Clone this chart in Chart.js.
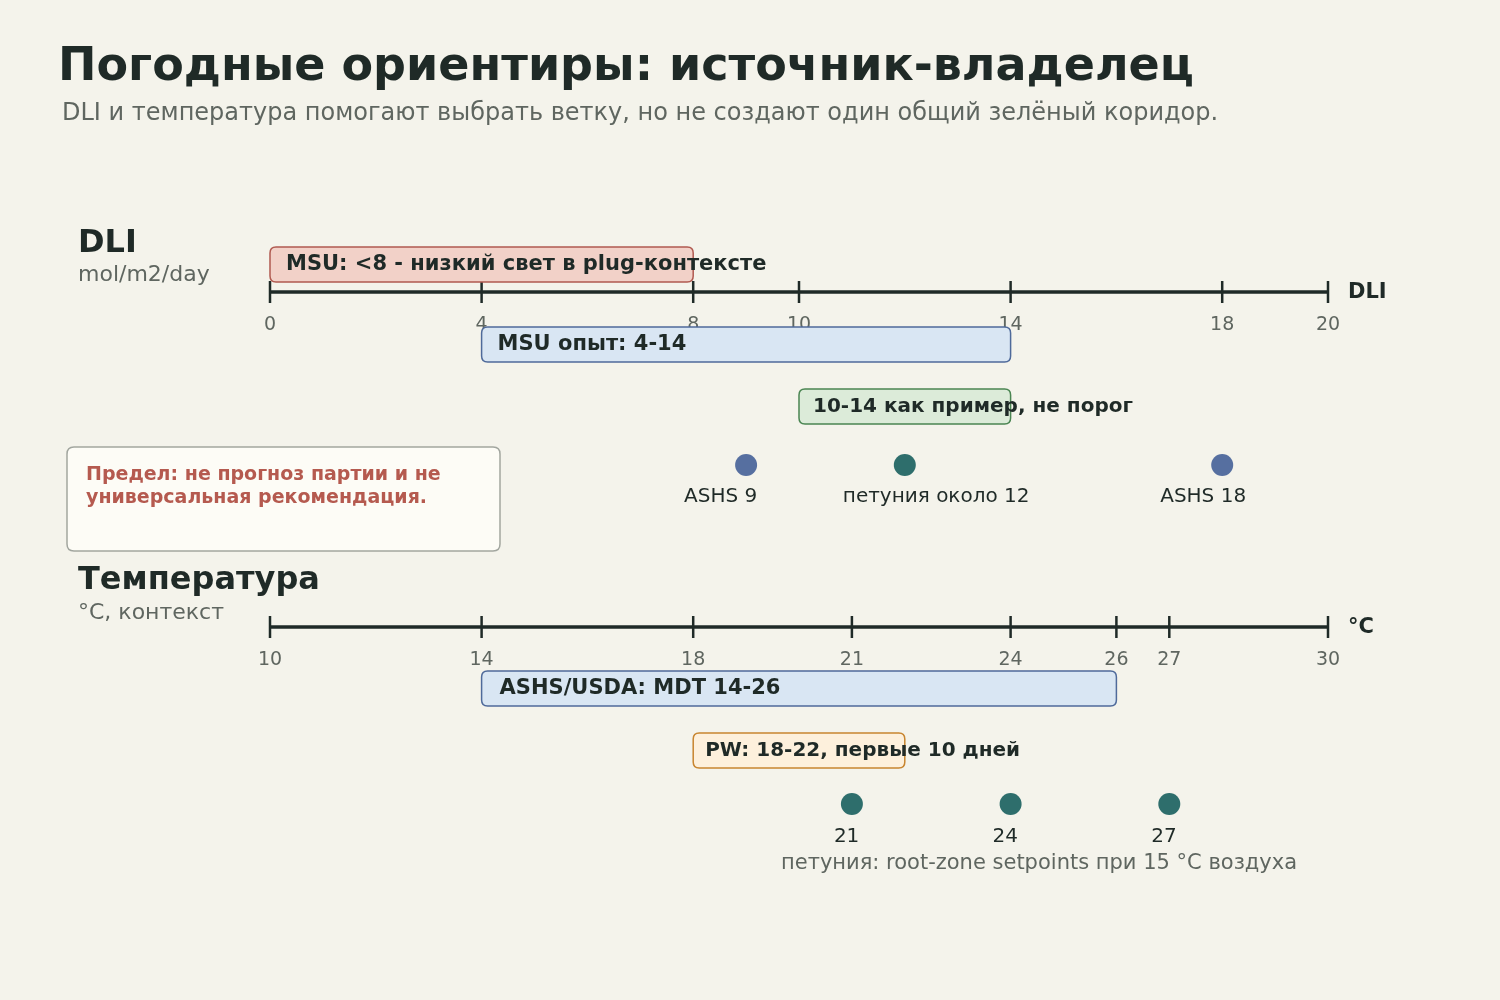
<!DOCTYPE html>
<html>
<head>
<meta charset="utf-8">
<script src="https://cdn.jsdelivr.net/npm/chart.js@4"></script>
<style>
  html, body { margin: 0; padding: 0; background: #f4f3eb; }
  canvas { display: block; }
</style>
</head>
<body>
<canvas id="myChart" width="1500" height="1000"></canvas>
<script>
// data
var dliTicks = [0, 4, 8, 10, 14, 18, 20];
var tempTicks = [10, 14, 18, 21, 24, 26, 27, 30];

var dliBandLabels = ['MSU: <8 - низкий свет в plug-контексте', 'MSU опыт: 4-14', '10-14 как пример, не порог'];
var dliBandStart = [0, 4, 10];
var dliBandEnd = [8, 14, 14];

var tempBandLabels = ['ASHS/USDA: MDT 14-26', 'PW: 18-22, первые 10 дней'];
var tempBandStart = [14, 18];
var tempBandEnd = [26, 22];

var dliMarks = [9, 12, 18];
var dliMarkLabels = ['ASHS 9', 'петуния около 12', 'ASHS 18'];
var tempMarks = [21, 24, 27];
var tempMarkLabels = ['21', '24', '27'];

// layout rows (pixel rows on the y scale)
var ROW = { dliAxis: 292, dliBands: [264, 344, 406], dliMarks: 465, tempAxis: 627, tempBands: [688, 750], tempMarks: 804 };

var FONT = '"DejaVu Sans", sans-serif';
var DARK = '#1f2a27';
var GREY = '#5f6660';
var BLUE = '#566fa0';
var TEAL = '#2e6e6c';

var dliBandStyle = [
  { fill: '#f2d1c8', stroke: '#b05a50', size: 21, pad: 16 },
  { fill: '#d9e6f3', stroke: '#4f6a9a', size: 21, pad: 16 },
  { fill: '#dcebd9', stroke: '#4a8552', size: 20, pad: 14 }
];
var tempBandStyle = [
  { fill: '#d9e6f3', stroke: '#4f6a9a', size: 21, pad: 18 },
  { fill: '#fdf0dc', stroke: '#c8852f', size: 20, pad: 12 }
];

function roundRect(ctx, x, y, w, h, r) {
  ctx.beginPath();
  ctx.moveTo(x + r, y);
  ctx.lineTo(x + w - r, y);
  ctx.quadraticCurveTo(x + w, y, x + w, y + r);
  ctx.lineTo(x + w, y + h - r);
  ctx.quadraticCurveTo(x + w, y + h, x + w - r, y + h);
  ctx.lineTo(x + r, y + h);
  ctx.quadraticCurveTo(x, y + h, x, y + h - r);
  ctx.lineTo(x, y + r);
  ctx.quadraticCurveTo(x, y, x + r, y);
  ctx.closePath();
}

function drawAxis(ctx, scale, ticks, y, endLabel) {
  var x0 = scale.getPixelForValue(scale.min);
  var x1 = scale.getPixelForValue(scale.max);
  ctx.save();
  ctx.strokeStyle = DARK;
  ctx.lineWidth = 3.5;
  ctx.beginPath();
  ctx.moveTo(x0, y);
  ctx.lineTo(x1, y);
  ctx.stroke();
  ctx.lineWidth = 2.5;
  ctx.font = '19px ' + FONT;
  ctx.fillStyle = GREY;
  ctx.textAlign = 'center';
  ctx.textBaseline = 'middle';
  ticks.forEach(function (t) {
    var x = scale.getPixelForValue(t);
    ctx.beginPath();
    ctx.moveTo(x, y - 11);
    ctx.lineTo(x, y + 11);
    ctx.stroke();
    ctx.fillText(String(t), x, y + 33);
  });
  ctx.font = 'bold 21px ' + FONT;
  ctx.fillStyle = DARK;
  ctx.textAlign = 'left';
  ctx.fillText(endLabel, x1 + 20, y + 1);
  ctx.restore();
}

function drawBands(ctx, scale, starts, ends, rows, styles) {
  ctx.save();
  for (var i = 0; i < starts.length; i++) {
    var a = scale.getPixelForValue(starts[i]);
    var b = scale.getPixelForValue(ends[i]);
    roundRect(ctx, a, rows[i] - 17, b - a, 35, 6);
    ctx.fillStyle = styles[i].fill;
    ctx.fill();
    ctx.lineWidth = 1.5;
    ctx.strokeStyle = styles[i].stroke;
    ctx.stroke();
  }
  ctx.restore();
}

function drawBandText(ctx, scale, starts, labels, rows, styles) {
  ctx.save();
  ctx.fillStyle = DARK;
  ctx.textAlign = 'left';
  ctx.textBaseline = 'middle';
  for (var i = 0; i < starts.length; i++) {
    ctx.font = 'bold ' + styles[i].size + 'px ' + FONT;
    ctx.fillText(labels[i], scale.getPixelForValue(starts[i]) + styles[i].pad, rows[i] + 1);
  }
  ctx.restore();
}

var diagram = {
  id: 'diagram',
  beforeDatasetsDraw: function (chart) {
    var ctx = chart.ctx;
    var x = chart.scales.x, x2 = chart.scales.x2;

    // headings
    ctx.save();
    ctx.textBaseline = 'middle';
    ctx.textAlign = 'left';
    ctx.fillStyle = DARK;
    ctx.font = 'bold 46px ' + FONT;
    ctx.fillText('Погодные ориентиры: источник-владелец', 58, 68);
    ctx.fillStyle = GREY;
    ctx.font = '24px ' + FONT;
    ctx.fillText('DLI и температура помогают выбрать ветку, но не создают один общий зелёный коридор.', 62, 114);

    ctx.fillStyle = DARK;
    ctx.font = 'bold 32px ' + FONT;
    ctx.fillText('DLI', 78, 244);
    ctx.fillText('Температура', 78, 581);
    ctx.fillStyle = GREY;
    ctx.font = '22px ' + FONT;
    ctx.fillText('mol/m2/day', 78, 275);
    ctx.fillText('°C, контекст', 78, 613);

    // caveat box
    roundRect(ctx, 67, 447, 433, 104, 7);
    ctx.fillStyle = '#fdfcf6';
    ctx.fill();
    ctx.strokeStyle = '#a2a69f';
    ctx.lineWidth = 1.5;
    ctx.stroke();
    ctx.fillStyle = '#b55a4f';
    ctx.font = 'bold 19px ' + FONT;
    ctx.fillText('Предел: не прогноз партии и не', 86, 475);
    ctx.fillText('универсальная рекомендация.', 86, 498);
    ctx.restore();

    // axes first, bands over them (bands cover part of tick labels)
    drawAxis(ctx, x, dliTicks, ROW.dliAxis, 'DLI');
    drawAxis(ctx, x2, tempTicks, ROW.tempAxis, '°C');
    drawBands(ctx, x, dliBandStart, dliBandEnd, ROW.dliBands, dliBandStyle);
    drawBands(ctx, x2, tempBandStart, tempBandEnd, ROW.tempBands, tempBandStyle);
  },
  afterDatasetsDraw: function (chart) {
    var ctx = chart.ctx;
    var x = chart.scales.x, x2 = chart.scales.x2;
    drawBandText(ctx, x, dliBandStart, dliBandLabels, ROW.dliBands, dliBandStyle);
    drawBandText(ctx, x2, tempBandStart, tempBandLabels, ROW.tempBands, tempBandStyle);

    ctx.save();
    ctx.textBaseline = 'middle';
    ctx.textAlign = 'left';
    ctx.fillStyle = DARK;
    ctx.font = '20px ' + FONT;
    dliMarks.forEach(function (v, i) {
      ctx.fillText(dliMarkLabels[i], x.getPixelForValue(v) - 62, ROW.dliMarks + 32);
    });
    tempMarks.forEach(function (v, i) {
      ctx.fillText(tempMarkLabels[i], x2.getPixelForValue(v) - 18, ROW.tempMarks + 33);
    });
    ctx.fillStyle = GREY;
    ctx.font = '21px ' + FONT;
    ctx.fillText('петуния: root-zone setpoints при 15 °C воздуха', 781, 864);
    ctx.restore();
  }
};

var ctx = document.getElementById('myChart').getContext('2d');
var chart = new Chart(ctx, {
  type: 'scatter',
  data: {
    datasets: [
      {
        label: 'DLI',
        xAxisID: 'x',
        data: dliMarks.map(function (v) { return { x: v, y: ROW.dliMarks }; }),
        backgroundColor: [BLUE, TEAL, BLUE],
        borderWidth: 0,
        pointRadius: 11
      },
      {
        label: 'Температура',
        xAxisID: 'x2',
        data: tempMarks.map(function (v) { return { x: v, y: ROW.tempMarks }; }),
        backgroundColor: TEAL,
        borderWidth: 0,
        pointRadius: 11
      }
    ]
  },
  plugins: [diagram],
  options: {
    responsive: false,
    animation: false,
    devicePixelRatio: 1,
    layout: { autoPadding: false, padding: { left: 270, right: 172, top: 0, bottom: 0 } },
    plugins: { legend: { display: false }, tooltip: { enabled: false } },
    scales: {
      x: { type: 'linear', min: 0, max: 20, display: false },
      x2: { type: 'linear', min: 10, max: 30, display: false },
      y: { type: 'linear', min: 0, max: 1000, reverse: true, display: false }
    }
  }
});
</script>
</body>
</html>
